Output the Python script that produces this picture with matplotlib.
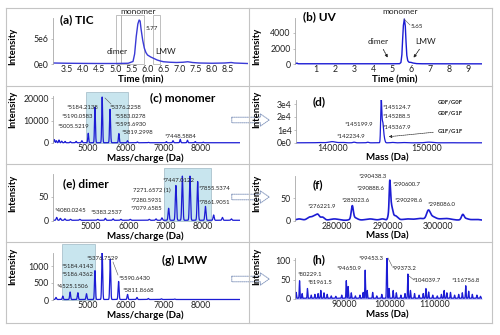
import numpy as np
import matplotlib
matplotlib.use("Agg")
import matplotlib.pyplot as plt
from matplotlib.patches import Rectangle, FancyArrowPatch
from matplotlib.lines import Line2D

plt.rcParams['font.family'] = ['Lato', 'DejaVu Sans']

# ---------------- data ----------------
# (a) total ion chromatogram, intensity in units of 1e6
tic_time = [3.07, 3.5, 4.0, 4.5, 5.0, 5.4, 5.55, 5.6, 5.65, 5.70, 5.74, 5.77, 5.80,
            5.85, 5.90, 5.95, 6.0, 6.1, 6.2, 6.3, 6.4, 6.5, 6.7, 6.9, 7.1, 7.25,
            7.4, 7.6, 8.0, 8.4, 8.6, 8.7, 9.1]
tic_int = [0.2, 0.15, 0.12, 0.1, 0.1, 0.15, 0.5, 2.0, 5.5, 8.0, 8.8, 8.6, 7.0,
           4.8, 3.2, 2.3, 1.8, 1.4, 1.1, 0.8, 0.6, 0.45, 0.35, 0.3, 0.35, 0.45,
           0.3, 0.2, 0.15, 0.2, 0.3, 0.2, 0.1]
tic_apex = 5.77

# (b) UV chromatogram
uv_time = [-0.1, 0.0, 0.05, 0.1, 1.0, 2.0, 3.0, 4.0, 5.0, 5.4, 5.47, 5.52, 5.56,
           5.60, 5.65, 5.70, 5.74, 5.78, 5.83, 5.9, 6.0, 6.1, 6.3, 6.6, 8.0, 9.74]
uv_int = [30, 120, 40, 30, 30, 30, 30, 30, 30, 40, 200, 1200, 3200,
          5000, 5800, 4900, 2800, 1100, 420, 220, 210, 130, 50, 30, 25, 20]
uv_apex = 5.65

# (c) monomer m/z spectrum: centre, height
mono_mz = [4105, 4160, 4230, 4300, 4390, 4530, 4683, 4838, 5005.5219, 5184.2138,
           5190.0583, 5376.2258, 5583.0278, 5595.6930, 5819.2998, 6048, 6311, 6600,
           7080, 7257, 7448.5884, 7640, 7846, 8060]
mono_int = [1400, 900, 1200, 700, 600, 450, 600, 900, 4200, 13500,
            2500, 20300, 13000, 3000, 4100, 900, 350, 150,
            500, 900, 1500, 1100, 500, 250]

# (d) deconvoluted monomer mass: centre, height, width
mono_mass = [138500, 139900, 141000, 142234.9, 143700, 145124.7, 145199.9,
             145288.5, 145367.9, 145450, 146300, 147500, 150200, 152500]
mono_mass_int = [200, 900, 300, 500, 450, 31000, 8000, 12000, 5000, 3000,
                 300, 200, 500, 150]
mono_mass_wid = [300, 350, 250, 120, 100, 55, 50, 55, 60, 80, 150, 200, 350, 200]

# (e) dimer m/z spectrum
dimer_mz = [4080.0245, 4180, 4300, 4450, 4700, 5180, 5383.2537, 5590, 5800, 6050,
            6560, 6740, 6900, 7079.6585, 7271.6572, 7280.5931, 7447.0122, 7650,
            7855.5374, 7861.9051, 8065, 8285, 8520, 8760]
dimer_int = [6, 4, 3, 2, 2, 2, 4, 3, 2, 2,
             2, 3, 5, 25, 55, 20, 92, 92,
             62, 20, 29, 11, 6, 3]

# (f) deconvoluted dimer mass
dimer_mass = [272500, 274600, 275600, 276221.9, 277100, 279500, 283023.6, 283400,
              286500, 289000, 290298.6, 290438.3, 290600.7, 290888.6, 291500,
              294000, 296500, 298086.0, 298800, 301500, 304900, 305400, 307500]
dimer_mass_int = [3, 7, 9, 10, 7, 3, 27, 6, 3, 3, 15, 55, 30, 20, 10,
                  3, 4, 17, 8, 4, 10, 4, 2]
dimer_mass_wid = [600, 500, 400, 300, 400, 800, 200, 600, 900, 500, 200, 110,
                  150, 200, 500, 1000, 800, 350, 700, 1200, 250, 600, 800]

# (g) LMW m/z spectrum
lmw_mz = [4150, 4330, 4525.1506, 4730, 4960, 5184.4143, 5186.4362, 5376.7529,
          5590.6430, 5811.8668, 6050, 6300, 6600, 6950, 7300]
lmw_int = [60, 100, 220, 200, 170, 700, 150, 1380, 1180, 530, 150, 60, 30, 20, 15]

# (h) deconvoluted LMW mass
lmw_mass = [79500, 80229.1, 80800, 81961.5, 82800, 83600, 84300, 84900, 85600,
            86300, 87200, 88200, 89500, 90500, 90900, 91600, 92500, 93500, 94200,
            94650.9, 95100, 96300, 97200, 98300, 99373.2, 99453.3, 99900, 100800,
            101500, 102500, 103400, 104039.7, 104600, 105500, 106500, 107400,
            108000, 108600, 109500, 110500, 111400, 112000, 112600, 113400,
            114300, 115200, 116000, 116756.8, 117400, 118200, 119200, 120000]
lmw_mass_int = [15, 45, 12, 25, 8, 10, 12, 20, 14, 10, 6, 5, 8, 45, 30, 14, 6,
                8, 15, 72, 20, 15, 6, 10, 50, 95, 25, 20, 14, 8, 12, 62, 20, 12,
                8, 12, 25, 16, 8, 6, 10, 20, 14, 15, 8, 10, 14, 32, 18, 10, 8, 5]

# ---------------- figure ----------------
W, H = 500, 335
fig = plt.figure(figsize=(W / 100, H / 100), dpi=100)
BLUE = '#1c1cd4'
GREY = '#a8a8a8'
BOXC = '#c8e5ee'


def P(x, y):
    return (x / W, 1 - y / H)


def make_axes(box, xcal, ycal, xticks, xlabels, yticks, ylabels):
    x0, x1, y0, y1 = box
    ax = fig.add_axes([x0 / W, 1 - y0 / H, (x1 - x0) / W, (y0 - y1) / H])
    (pa, va), (pb, vb) = xcal
    sx = (vb - va) / (pb - pa)
    ax.set_xlim(va + (x0 - pa) * sx, va + (x1 - pa) * sx)
    (qa, ua), (qb, ub) = ycal
    sy = (ub - ua) / (qb - qa)
    ax.set_ylim(ua + (y0 - qa) * sy, ua + (y1 - qa) * sy)
    ax.patch.set_alpha(0)
    for s in ('top', 'right', 'bottom'):
        ax.spines[s].set_visible(False)
    ax.spines['left'].set_color(GREY)
    ax.spines['left'].set_linewidth(0.6)
    ax.spines['left'].set_bounds(0, ax.get_ylim()[1])
    ax.set_xticks(xticks)
    ax.set_xticklabels(xlabels)
    ax.set_yticks(yticks)
    ax.set_yticklabels(ylabels)
    ax.tick_params(axis='x', length=0, pad=0.3, labelsize=6.3, colors='#222222')
    ax.tick_params(axis='y', length=1.5, width=0.5, color=GREY, pad=1.5,
                   labelsize=6.3, labelcolor='#222222')
    return ax


def peaks(x, centres, heights, widths):
    y = np.zeros_like(x)
    for c, h, w in zip(centres, heights, widths):
        y += h * np.exp(-0.5 * ((x - c) / w) ** 2)
    return y


def label(x, y, s, size=4.3, **kw):
    fig.text(*P(x, y), s, fontsize=size, va='center', ha=kw.pop('ha', 'left'),
             color='#222222', **kw)


def leader(xa, ya, xb, yb):
    fig.add_artist(Line2D([xa / W, xb / W], [1 - ya / H, 1 - yb / H],
                          color='#555555', lw=0.4))


def xtitle(x, y, s):
    fig.text(*P(x, y), s, fontsize=7, fontweight='bold', ha='center', va='center')


# panel frames
frame = dict(color='#c4c4c4', lw=0.8)
for (xa, ya, xb, yb) in [(6, 8, 492, 8), (6, 323, 492, 323), (6, 8, 6, 323),
                         (492, 8, 492, 323), (249, 8, 249, 323),
                         (6, 86, 492, 86), (6, 164, 492, 164), (6, 242, 492, 242)]:
    fig.add_artist(Line2D([xa / W, xb / W], [1 - ya / H, 1 - yb / H], **frame))

# ---- (a) TIC ----
ax = make_axes((53, 248, 65, 18), ((67, 3.5), (228, 8.5)), ((64, 0), (39, 5e6)),
               np.arange(3.5, 8.51, 0.5), [f'{v:.1f}' for v in np.arange(3.5, 8.51, 0.5)],
               [0, 5e6], ['0e0', '5e6'])
ax.plot(tic_time, np.array(tic_int) * 1e6, color='#3a3ad6', lw=1.0)
ytop_box = (64 - 15) * 2e5
for xa, xb in [(5.02, 5.18), (5.18, 5.90), (6.18, 6.38)]:
    ax.add_patch(Rectangle((xa, 0), xb - xa, ytop_box, fill=False, ec='#b4b4b4',
                           lw=0.6, clip_on=False))
fig.text(*P(60, 20), '(a) TIC', fontsize=8.5, fontweight='bold', va='center')
label(138, 11, 'monomer', size=6, ha='center')
label(117, 52, 'dimer', size=6, ha='center')
label(166, 52, 'LMW', size=6, ha='center')
label(146, 28, f'{tic_apex:.2f}', size=4.5)
xtitle(141, 80, 'Time (min)')

# ---- (b) UV ----
ax = make_axes((295, 482, 65, 18), ((316, 1), (468, 9)), ((64, 0), (33, 4000)),
               range(1, 10), [str(v) for v in range(1, 10)],
               [0, 2000, 4000], ['0', '2000', '4000'])
ax.plot(uv_time, uv_int, color=BLUE, lw=1.0)
fig.text(*P(303, 17), '(b) UV', fontsize=8.5, fontweight='bold', va='center')
label(400, 11, 'monomer', size=6, ha='center')
label(411, 27, f'{uv_apex:.2f}', size=4.5)
leader(404, 19, 410, 25)
label(378, 41, 'dimer', size=6, ha='center')
label(426, 41, 'LMW', size=6, ha='center')
for (xa, ya, xb, yb) in [(382, 47, 389, 60), (421, 47, 412, 60)]:
    fig.add_artist(FancyArrowPatch(P(xa, ya), P(xb, yb), transform=fig.transFigure,
                                   arrowstyle='-|>', mutation_scale=4, lw=0.6,
                                   color='#222222', linestyle=(0, (2, 1))))
xtitle(395, 80, 'Time (min)')

# ---- (c) monomer ----
ax = make_axes((53, 240, 144, 96), ((88, 5000), (201, 8000)), ((143, 0), (98, 20000)),
               [5000, 6000, 7000, 8000], ['5000', '6000', '7000', '8000'],
               [0, 10000, 20000], ['0', '10000', '20000'])
ax.add_patch(Rectangle((4950, 0), 1100, (143 - 92) / 45 * 20000, fc=BOXC,
                       ec='#9fb8c4', lw=0.5, clip_on=False, zorder=0))
x = np.linspace(*ax.get_xlim(), 20000)
ax.plot(x, peaks(x, mono_mz, mono_int, [12] * len(mono_mz)) + 120, color=BLUE, lw=0.9)
fig.text(*P(150, 98), '(c) monomer', fontsize=8.5, fontweight='bold', va='center')
for s, (px, py) in zip([5184.2138, 5190.0583, 5005.5219, 5376.2258, 5583.0278,
                        5595.6930, 5819.2998, 7448.5884],
                       [(67, 107), (62, 117), (58, 127), (110, 107), (115, 117),
                        (115, 125), (122, 133), (165, 136)]):
    label(px, py, f'*{s:.4f}')
leader(105, 98, 111, 104)
xtitle(145, 158, 'Mass/charge (Da)')

# ---- (d) monomer mass ----
ax = make_axes((296, 482, 144, 100), ((333, 140000), (427, 150000)), ((143, 0), (104, 30000)),
               [140000, 150000], ['140000', '150000'],
               [0, 1e4, 2e4, 3e4], ['0e0', '1e4', '2e4', '3e4'])
x = np.linspace(*ax.get_xlim(), 20000)
ax.plot(x, peaks(x, mono_mass, mono_mass_int, mono_mass_wid) + 150, color=BLUE, lw=0.9)
fig.text(*P(313, 102), '(d)', fontsize=8.5, fontweight='bold', va='center')
for s, (px, py) in zip([145124.7, 145288.5, 145199.9, 145367.9, 142234.9],
                       [(383, 107), (383, 117), (345, 125), (383, 128), (337, 136)]):
    label(px, py, f'*{s:.1f}')
for s, py in zip(['G0F/G0F', 'G0F/G1F', 'G1F/G1F'], [102, 113, 131]):
    label(438, py, s, size=4.3, fontweight='bold')
fig.add_artist(FancyArrowPatch(P(436, 132), P(386, 137), transform=fig.transFigure,
                               arrowstyle='-|>', mutation_scale=4, lw=0.5,
                               color='#333333', linestyle=(0, (2, 1))))
xtitle(387, 158, 'Mass (Da)')

# ---- (e) dimer ----
ax = make_axes((53, 240, 222, 174), ((91, 5000), (203, 8000)), ((221, 0), (197, 50)),
               [5000, 6000, 7000, 8000], ['5000', '6000', '7000', '8000'],
               [0, 50], ['0', '50'])
ax.add_patch(Rectangle((6960, 0), 1260, (221 - 168) / 24 * 50, fc=BOXC,
                       ec='#9fb8c4', lw=0.5, clip_on=False, zorder=0))
x = np.linspace(*ax.get_xlim(), 20000)
ax.plot(x, peaks(x, dimer_mz, dimer_int, [15] * len(dimer_mz)) + 1.5, color=BLUE, lw=0.9)
fig.text(*P(63, 184), '(e) dimer', fontsize=8.5, fontweight='bold', va='center')
label(55, 211, f'*{dimer_mz[0]:.4f}')
label(91, 213, f'*{dimer_mz[6]:.4f}')
label(133, 190, f'{dimer_mz[14]:.4f} (1)')
label(131, 201, f'*{dimer_mz[15]:.4f}')
label(131, 209, f'*{dimer_mz[13]:.4f}')
label(163, 181, f'*{dimer_mz[16]:.4f}')
label(199, 188, f'*{dimer_mz[18]:.4f}')
label(199, 203, f'*{dimer_mz[19]:.4f}')
xtitle(145, 236, 'Mass/charge (Da)')

# ---- (f) dimer mass ----
ax = make_axes((295, 482, 222, 176), ((337, 280000), (438, 300000)), ((221, 0), (198, 50)),
               [280000, 290000, 300000], ['280000', '290000', '300000'],
               [0, 50], ['0', '50'])
x = np.linspace(*ax.get_xlim(), 20000)
ax.plot(x, peaks(x, dimer_mass, dimer_mass_int, dimer_mass_wid) + 1.5, color=BLUE, lw=1.2)
fig.text(*P(313, 185), '(f)', fontsize=8.5, fontweight='bold', va='center')
for s, (px, py) in zip([276221.9, 283023.6, 290438.3, 290888.6, 290600.7, 290298.6, 298086.0],
                       [(308, 206), (342, 201), (359, 177), (357, 188), (393, 184),
                        (395, 201), (428, 204)]):
    label(px, py, f'*{s:.1f}')
xtitle(387, 236, 'Mass (Da)')

# ---- (g) LMW ----
ax = make_axes((53, 240, 301, 253), ((88, 5000), (201, 8000)), ((300, 0), (266, 1000)),
               [5000, 6000, 7000, 8000], ['5000', '6000', '7000', '8000'],
               [0, 500, 1000], ['0', '500', '1000'])
ax.add_patch(Rectangle((4310, 0), 880, (300 - 244) / 34 * 1000, fc=BOXC,
                       ec='#9fb8c4', lw=0.5, clip_on=False, zorder=0))
x = np.linspace(*ax.get_xlim(), 20000)
ax.plot(x, peaks(x, lmw_mz, lmw_int, [13] * len(lmw_mz)) + 15, color=BLUE, lw=0.9)
fig.text(*P(162, 260), '(g) LMW', fontsize=8.5, fontweight='bold', va='center')
for s, (px, py) in zip([5376.7529, 5184.4143, 5186.4362, 4525.1506, 5590.6430, 5811.8668],
                       [(87, 259), (62, 266), (62, 275), (57, 286), (119, 278), (123, 290)]):
    label(px, py, f'*{s:.4f}')
leader(113, 262, 118, 275)
xtitle(145, 315, 'Mass/charge (Da)')

# ---- (h) LMW mass ----
ax = make_axes((295, 482, 300, 258), ((344, 90000), (435, 110000)), ((299, 0), (260, 100)),
               [90000, 100000, 110000], ['90000', '100000', '110000'],
               [0, 50, 100], ['0', '50', '100'])
x = np.linspace(*ax.get_xlim(), 20000)
yh = peaks(x, lmw_mass, lmw_mass_int, [70] * len(lmw_mass)) + 2
ax.fill_between(x, 0, yh, color=BLUE, alpha=0.45, lw=0)
ax.plot(x, yh, color=BLUE, lw=0.9)
fig.text(*P(313, 260), '(h)', fontsize=8.5, fontweight='bold', va='center')
for s, (px, py) in zip([80229.1, 81961.5, 94650.9, 99453.3, 99373.2, 104039.7, 116756.8],
                       [(298, 275), (308, 283), (337, 268), (359, 259), (392, 269),
                        (413, 281), (452, 280)]):
    label(px, py, f'*{s:.1f}')
leader(388, 258, 392, 266)
leader(409, 276, 414, 280)
xtitle(387, 315, 'Mass (Da)')

# y-axis titles
for xc in (13, 257):
    for yc in (46, 109, 193, 266):
        fig.text(*P(xc, yc), 'Intensity', fontsize=6.8, fontweight='bold',
                 rotation=90, ha='center', va='center')

# dotted block arrows linking the m/z spectra to their deconvoluted masses
for yc in (120, 197, 279):
    fig.add_artist(FancyArrowPatch(P(229, yc), P(272, yc), transform=fig.transFigure,
                                   arrowstyle='simple,head_length=0.8,head_width=1.1,tail_width=0.5',
                                   mutation_scale=8, fc='none', ec='#8a9cc0', lw=0.7,
                                   linestyle=(0, (1, 1))))

fig.savefig('out.png', dpi=100)
